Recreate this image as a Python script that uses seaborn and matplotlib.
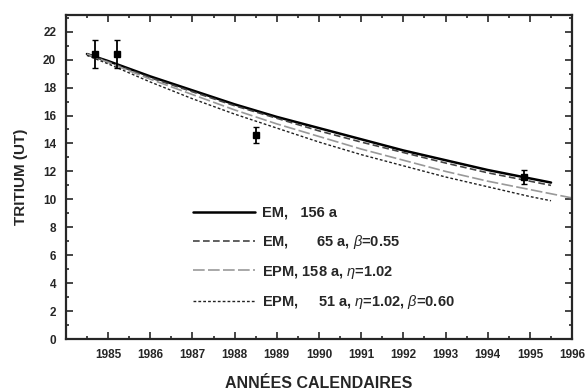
import matplotlib
matplotlib.use("Agg")
import matplotlib.pyplot as plt
import seaborn as sns
import pandas as pd
from matplotlib.ticker import MultipleLocator

# model curves
years = [1984.5, 1985, 1986, 1987, 1988, 1989, 1990, 1991, 1992, 1993, 1994, 1995, 1995.5]
em_156 = [20.4, 19.9, 18.8, 17.8, 16.8, 15.9, 15.1, 14.3, 13.5, 12.8, 12.1, 11.5, 11.2]
em_65 = [20.4, 19.85, 18.7, 17.7, 16.7, 15.8, 14.9, 14.1, 13.35, 12.6, 11.9, 11.3, 11.0]
years_epm158 = [1984.5, 1985, 1986, 1987, 1988, 1989, 1990, 1991, 1992, 1993, 1994, 1995, 1995.5, 1996]
epm_158 = [20.4, 19.8, 18.6, 17.5, 16.4, 15.4, 14.5, 13.6, 12.8, 12.0, 11.3, 10.7, 10.4, 10.1]
epm_51 = [20.3, 19.7, 18.4, 17.2, 16.1, 15.1, 14.1, 13.2, 12.4, 11.6, 10.9, 10.2, 9.9]

# measurements
obs_year = [1984.69, 1985.21, 1988.51, 1994.85]
obs_tritium = [20.4, 20.4, 14.6, 11.6]
obs_err = [1.0, 1.0, 0.6, 0.5]

labels = ["EM,   156 a",
          "EM,       65 a, $\\beta$=0.55",
          "EPM, 158 a, $\\eta$=1.02",
          "EPM,     51 a, $\\eta$=1.02, $\\beta$=0.60"]

sns.set_style("ticks")
plt.rcParams['font.family'] = ['Liberation Sans', 'DejaVu Sans']
plt.rcParams['mathtext.fontset'] = 'custom'
plt.rcParams['mathtext.it'] = 'Liberation Sans:italic'

fig = plt.figure(figsize=(5.88, 3.92), dpi=100)
ax = fig.add_axes([0.112, 0.135, 0.861, 0.827])

sns.lineplot(x=years, y=em_156, ax=ax, color='black', lw=1.8, label=labels[0])
sns.lineplot(x=years, y=em_65, ax=ax, color='#444444', lw=1.2, linestyle=(0, (4, 2)), label=labels[1])
sns.lineplot(x=years_epm158, y=epm_158, ax=ax, color='#999999', lw=1.2, linestyle=(0, (7, 2)), label=labels[2])
sns.lineplot(x=years, y=epm_51, ax=ax, color='#222222', lw=1.0, linestyle=(0, (2, 1.5)), label=labels[3])

ax.errorbar(obs_year, obs_tritium, yerr=obs_err, fmt='s', color='black', ms=4.5,
            elinewidth=1.3, capsize=2, capthick=1)

ax.set_xlim(1984, 1996)
ax.set_ylim(0, 23.2)
ax.set_xticks(range(1985, 1997))
ax.set_yticks(range(0, 23, 2))
ax.xaxis.set_minor_locator(MultipleLocator(0.5))
ax.yaxis.set_minor_locator(MultipleLocator(1))
ax.tick_params(which='both', direction='in', top=True, right=True, width=1.2)
ax.tick_params(which='major', length=5, labelsize=8.5)
ax.tick_params(axis='y', which='major', pad=7)
ax.tick_params(axis='x', which='major', pad=7)
ax.tick_params(which='minor', length=2.5)
for lbl in ax.get_xticklabels() + ax.get_yticklabels():
    lbl.set_fontweight('bold')
for s in ax.spines.values():
    s.set_linewidth(1.6)

ax.set_xlabel('ANNÉES CALENDAIRES', fontsize=11.5, fontweight='bold', labelpad=11)
ax.set_ylabel('TRITIUM (UT)', fontsize=11, fontweight='bold', labelpad=11)

leg = ax.legend(loc='lower left', bbox_to_anchor=(0.225, 0.045), frameon=False,
                fontsize=10.5, handlelength=4.25, labelspacing=0.88, handletextpad=0.5)
for t in leg.get_texts():
    t.set_fontweight('bold')

fig.savefig('out.png', dpi=100)
